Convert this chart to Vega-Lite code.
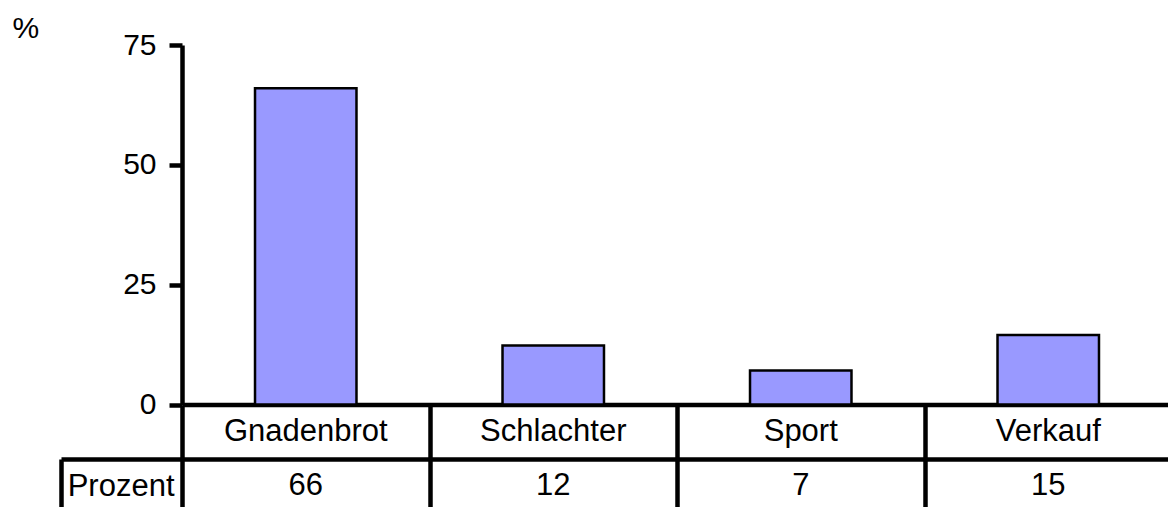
{
  "$schema": "https://vega.github.io/schema/vega-lite/v6.json",
  "padding": {"left": 12, "top": 13, "right": 0, "bottom": 0},
  "spacing": 0,
  "bounds": "flush",
  "config": {"font": "Liberation Sans", "view": {"stroke": null}, "concat": {"spacing": 0}},
  "data": {"values": [
    {"Kategorie": "Gnadenbrot", "Anteil": 66.0, "Prozent": "66"},
    {"Kategorie": "Schlachter", "Anteil": 12.3, "Prozent": "12"},
    {"Kategorie": "Sport", "Anteil": 7.1, "Prozent": "7"},
    {"Kategorie": "Verkauf", "Anteil": 14.5, "Prozent": "15"}
  ]},
  "vconcat": [
    {
      "width": 990,
      "height": 359.5,
      "mark": {"type": "bar", "fill": "#9999ff", "stroke": "#000000", "strokeWidth": 2.5},
      "encoding": {
        "x": {"field": "Kategorie", "type": "nominal", "sort": null,
          "scale": {"type": "band", "paddingInner": 0.59, "paddingOuter": 0.295},
          "axis": {"title": null, "labels": false, "ticks": false, "grid": false, "domainColor": "#000000", "domainWidth": 4.5}},
        "y": {"field": "Anteil", "type": "quantitative",
          "scale": {"domain": [0, 75], "nice": false},
          "axis": {"values": [0, 25, 50, 75], "grid": false, "title": "%", "titleAngle": 0, "titleAlign": "left", "titleBaseline": "alphabetic", "titleX": -170, "titleY": -7.5, "titleFontSize": 30, "titleFontWeight": "normal", "titleColor": "#000000", "labelFontSize": 30, "labelColor": "#000000", "labelPadding": 13, "tickSize": 13, "tickWidth": 4.5, "tickColor": "#000000", "domainColor": "#000000", "domainWidth": 4.5}}
      }
    },
    {
      "width": 990,
      "height": 108,
      "transform": [{"fold": ["Kategorie", "Prozent"], "as": ["Zeile", "Text"]}],
      "encoding": {
        "x": {"field": "Kategorie", "type": "nominal", "sort": null,
          "scale": {"type": "band", "paddingInner": 0, "paddingOuter": 0},
          "axis": {"title": null, "labels": false, "ticks": false, "domain": false, "grid": true, "tickBand": "extent", "gridColor": "#000000", "gridWidth": 4.5, "gridOpacity": 1}},
        "text": {"field": "Text"}
      },
      "layer": [
        {
          "mark": {"type": "text", "fontSize": 31, "color": "#000000"},
          "encoding": {
            "y": {"field": "Zeile", "type": "nominal",
              "scale": {"type": "band", "domain": ["Kategorie", "Prozent"], "paddingInner": 0, "paddingOuter": 0},
              "axis": {"orient": "left", "title": null, "domain": false, "values": ["Prozent"], "grid": true, "tickBand": "extent", "gridColor": "#000000", "gridWidth": 4.5, "gridOpacity": 1,
                "ticks": true, "tickSize": 121, "tickWidth": 4.5, "tickColor": "#000000", "tickOpacity": 1,
                "labelFontSize": 31, "labelColor": "#000000", "labelPadding": -113, "labelAlign": "right"}}
          }
        },
        {
          "mark": {"type": "text", "fontSize": 31, "opacity": 0},
          "encoding": {
            "y": {"field": "Zeile", "type": "nominal",
              "axis": {"orient": "left", "offset": 121, "title": null, "labels": false, "ticks": false, "grid": false,
                "domain": true, "domainColor": "#000000", "domainWidth": 4.5, "domainDash": [0, 54, 60, 0]}}
          }
        }
      ],
      "resolve": {"axis": {"y": "independent"}}
    }
  ]
}
